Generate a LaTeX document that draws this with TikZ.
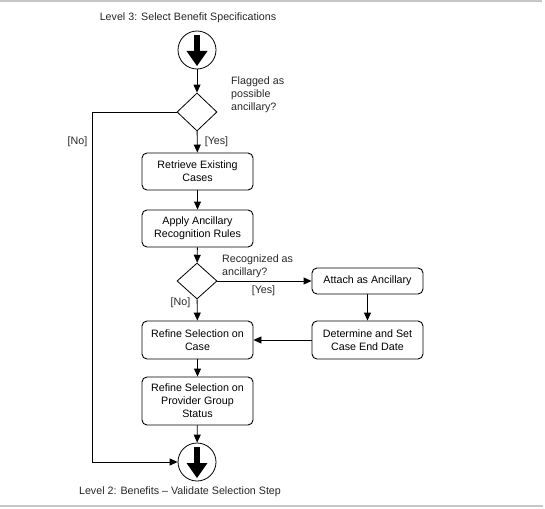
\documentclass[tikz,border=0pt]{standalone}
\usepackage{fontspec}
\setmainfont{Liberation Sans}
\usetikzlibrary{arrows.meta,shapes.geometric,calc}
\newcommand\termarrow[1]{%
  \fill ($(#1)+(-3.4,-15)$) rectangle ($(#1)+(3.4,2)$);
  \fill ($(#1)+(-10.5,1)$) -- ($(#1)+(10.5,1)$) -- ($(#1)+(0,16)$) -- cycle;}
\begin{document}
\begin{tikzpicture}[x=1pt,y=-1pt,
  font=\fontsize{10.7}{13}\selectfont,
  act/.style={draw, rounded corners=5pt, minimum width=111pt, align=center, inner sep=0pt, line width=0.9pt},
  dec/.style={draw, diamond, minimum width=40pt, minimum height=38pt, inner sep=0pt, line width=0.8pt},
  term/.style={draw, circle, minimum size=38pt, inner sep=0pt, line width=0.8pt},
  flow/.style={-{Triangle[length=8pt,width=7pt]}, line width=0.9pt},
  lbl/.style={inner sep=0pt, align=left, text=black!85},
  rule/.style={draw=black!22, line width=2pt}
]
\useasboundingbox (0,0) rectangle (545,508);
\coordinate (tl) at (0,1);
\coordinate (tr) at (542,1);
\coordinate (bl) at (0,506);
\coordinate (br) at (543,506);
\draw[rule] (tl) -- (tr);
\draw[rule] (bl) -- (br);

\node[lbl] (title) at (188,18) {Level 3: Select Benefit Specifications};
\node[term] (start) at (197,50) {};
\termarrow{start}
\node[dec] (d1) at (197,112) {};
\node[lbl, anchor=west] (q1) at (231,95) {Flagged as\\possible\\ancillary?};
\node[act, minimum height=37pt] (b1) at (197.5,171.5) {Retrieve Existing\\Cases};
\node[act, minimum height=37pt] (b2) at (197.5,228.5) {Apply Ancillary\\Recognition Rules};
\node[dec, minimum height=36pt] (d2) at (197,281) {};
\node[lbl, anchor=west] (q2) at (222,266) {Recognized as\\ancillary?};
\node[act, minimum height=26pt] (att) at (367.5,281) {Attach as Ancillary};
\node[act, minimum height=38pt] (det) at (367.5,340) {Determine and Set\\Case End Date};
\node[act, minimum height=38pt] (rc) at (197.5,340) {Refine Selection on\\Case};
\node[act, minimum height=48pt] (rp) at (197.5,401) {Refine Selection on\\Provider Group\\Status};
\node[term] (end) at (197,462) {};
\termarrow{end}
\node[lbl] (foot) at (180,492) {Level 2: Benefits -- Validate Selection Step};

\node[lbl] (no1) at (77.5,142) {[No]};
\node[lbl] (yes1) at (216.5,142) {[Yes]};
\node[lbl] (yes2) at (263.5,291) {[Yes]};
\node[lbl] (no2) at (180.5,303) {[No]};

\coordinate (c1) at (92,112);
\coordinate (c2) at (92,462);

\draw[flow] (start) -- (d1);
\draw[flow] (d1) -- (b1);
\draw[flow] (b1) -- (b2);
\draw[flow] (b2) -- (d2);
\draw[flow] (d2) -- (rc);
\draw[flow] (d2) -- (att);
\draw[flow] (att) -- (det);
\draw[flow] (det) -- (rc);
\draw[flow] (rc) -- (rp);
\draw[flow] (rp) -- (end);
\draw[flow] (d1.west) -- (c1) -- (c2) -- (end.west);
\end{tikzpicture}
\end{document}
